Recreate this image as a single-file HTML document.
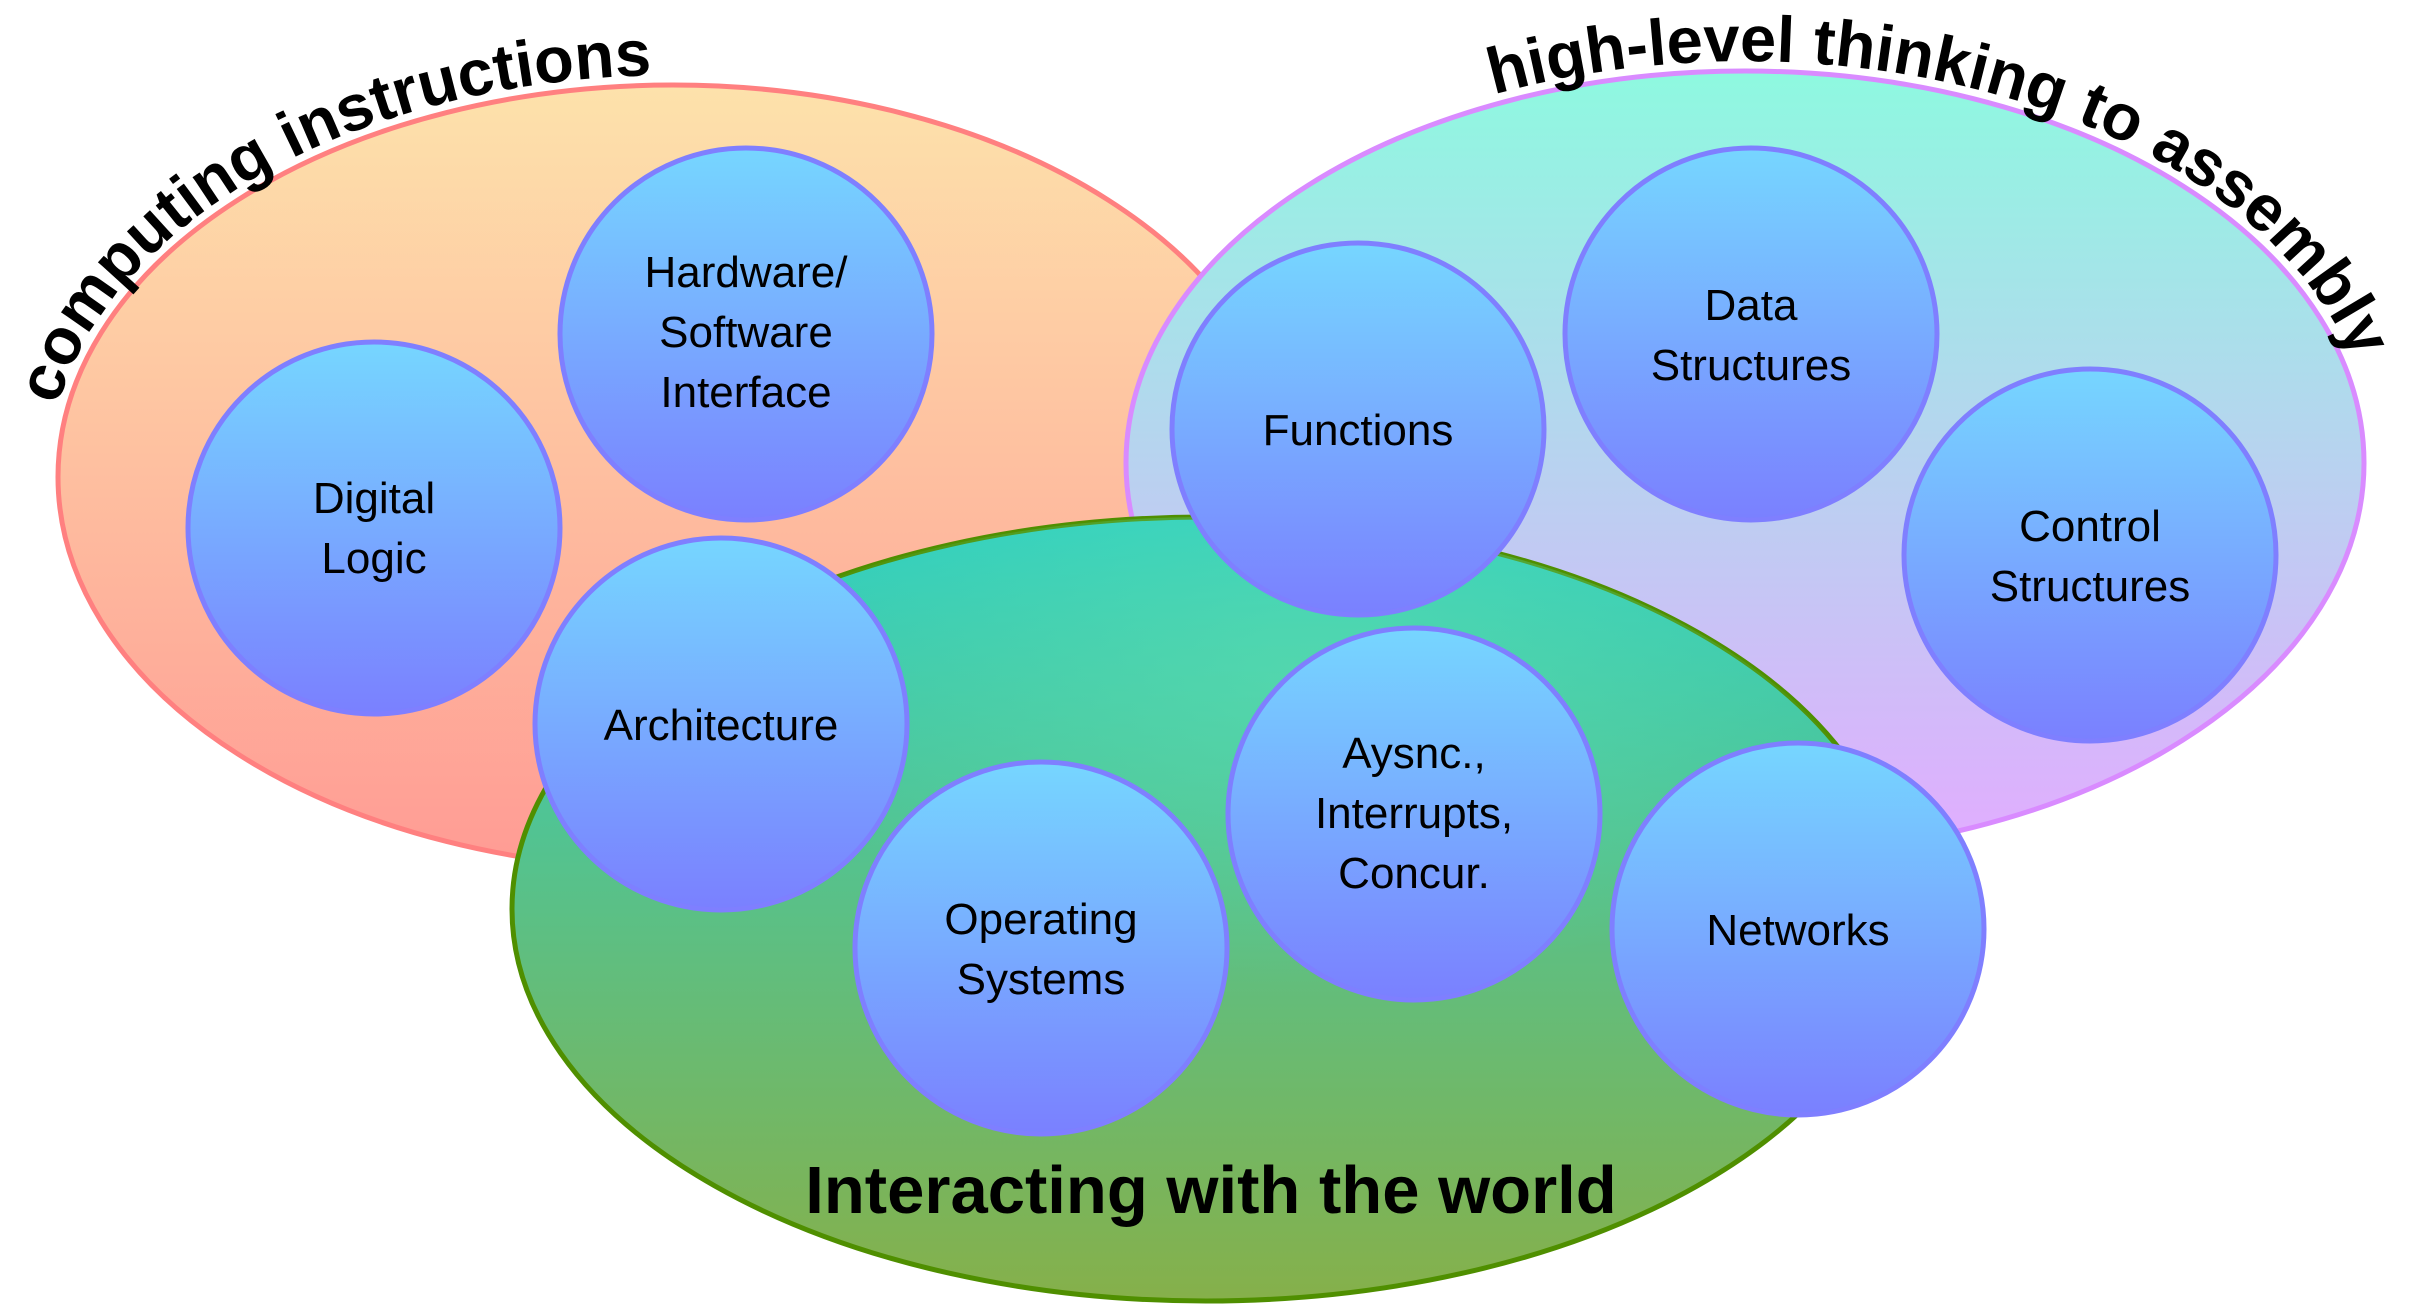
<!DOCTYPE html>
<html><head><meta charset="utf-8"><style>
html,body{margin:0;padding:0;background:#fff;}
svg{display:block;}
text{font-family:"Liberation Sans",Arial,sans-serif;}
</style></head><body>
<svg width="2424" height="1304" viewBox="0 0 2424 1304" xmlns="http://www.w3.org/2000/svg">
<defs>
<linearGradient id="go" x1="0" y1="0" x2="0" y2="1"><stop offset="0" stop-color="#fde2ab"/><stop offset="1" stop-color="#ff9b94"/></linearGradient>
<linearGradient id="gp" x1="0" y1="0" x2="0" y2="1"><stop offset="0" stop-color="#8ef9e0"/><stop offset="1" stop-color="#e2acff"/></linearGradient>
<linearGradient id="gg" x1="0" y1="0" x2="0" y2="1"><stop offset="0" stop-color="#2fd0c2"/><stop offset="1" stop-color="#86b04a"/></linearGradient>
<radialGradient id="gh" cx="0.58" cy="0.2" r="0.4"><stop offset="0" stop-color="#5fe0b0" stop-opacity="0.6"/><stop offset="1" stop-color="#5fe0b0" stop-opacity="0"/></radialGradient>
<linearGradient id="gc" x1="0" y1="0" x2="0" y2="1"><stop offset="0" stop-color="#76d6ff"/><stop offset="1" stop-color="#7a80ff"/></linearGradient>
<path id="po" d="M 48 477 A 625 402 0 0 1 1298 477"/>
<path id="pp" d="M 1116 463 A 629 402 0 0 1 2374 463"/>
</defs>
<ellipse cx="673" cy="477" rx="615" ry="392" fill="url(#go)" stroke="#ff8080" stroke-width="5"/>
<ellipse cx="1745" cy="463" rx="619" ry="392" fill="url(#gp)" stroke="#d98bff" stroke-width="5"/>
<ellipse cx="1206" cy="909" rx="694" ry="392" fill="url(#gg)" stroke="#4f8f00" stroke-width="5"/>
<ellipse cx="1206" cy="909" rx="694" ry="392" fill="url(#gh)"/>
<text font-size="65" font-weight="bold" fill="#000"><textPath href="#po" startOffset="72">computing instructions</textPath></text>
<text font-size="65" font-weight="bold" fill="#000"><textPath href="#pp" startOffset="565">high-level thinking to assembly</textPath></text>
<g fill="url(#gc)" stroke="#7f7fff" stroke-width="5">
<circle cx="374" cy="528" r="186"/>
<circle cx="746" cy="334" r="186"/>
<circle cx="721" cy="724" r="186"/>
<circle cx="1358" cy="429" r="186"/>
<circle cx="1751" cy="334" r="186"/>
<circle cx="2090" cy="555" r="186"/>
<circle cx="1041" cy="948" r="186"/>
<circle cx="1414" cy="814" r="186"/>
<circle cx="1798" cy="929" r="186"/>
</g>
<g font-size="44" fill="#000" text-anchor="middle">
<text x="374" y="513">Digital</text><text x="374" y="573">Logic</text>
<text x="746" y="287">Hardware/</text><text x="746" y="347">Software</text><text x="746" y="407">Interface</text>
<text x="721" y="740">Architecture</text>
<text x="1358" y="445">Functions</text>
<text x="1751" y="320">Data</text><text x="1751" y="380">Structures</text>
<text x="2090" y="541">Control</text><text x="2090" y="601">Structures</text>
<text x="1041" y="934">Operating</text><text x="1041" y="994">Systems</text>
<text x="1414" y="768">Aysnc.,</text><text x="1414" y="828">Interrupts,</text><text x="1414" y="888">Concur.</text>
<text x="1798" y="945">Networks</text>
</g>
<text x="1211" y="1213" font-size="67" font-weight="bold" text-anchor="middle" fill="#000">Interacting with the world</text>
</svg>
</body></html>
